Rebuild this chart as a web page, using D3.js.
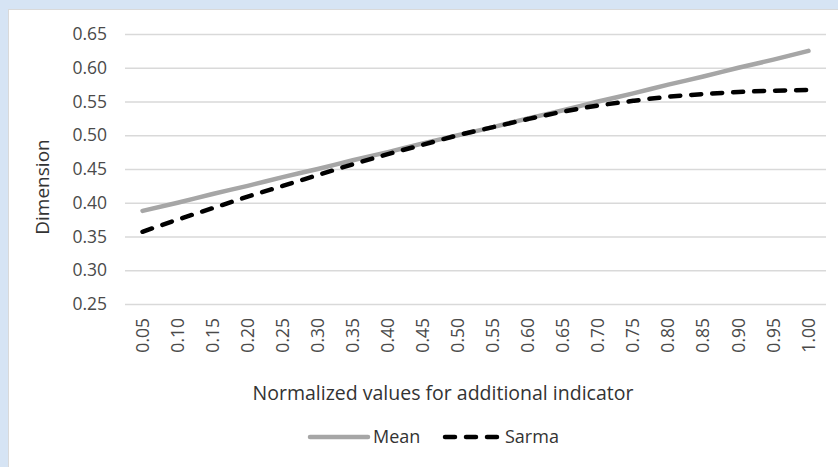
<!DOCTYPE html>
<html>
<head>
<meta charset="utf-8">
<script src="https://cdn.jsdelivr.net/npm/d3@7"></script>
<style>
  body { margin: 0; background: #d6e4f4; }
  #chart { width: 838px; height: 467px; }
  text { font-family: "Open Sans", sans-serif; }
</style>
</head>
<body>
<div id="chart"></div>
<script>
// x categories (normalized values for additional indicator)
const categories = ["0.05", "0.10", "0.15", "0.20", "0.25", "0.30", "0.35", "0.40", "0.45", "0.50",
                    "0.55", "0.60", "0.65", "0.70", "0.75", "0.80", "0.85", "0.90", "0.95", "1.00"];
const meanValues = [0.388, 0.400, 0.413, 0.425, 0.438, 0.450, 0.463, 0.475, 0.488, 0.500,
                    0.512, 0.525, 0.537, 0.550, 0.562, 0.575, 0.587, 0.600, 0.612, 0.625];
const sarmaValues = [0.357, 0.375, 0.392, 0.409, 0.425, 0.441, 0.457, 0.472, 0.486, 0.500,
                     0.512, 0.524, 0.535, 0.544, 0.551, 0.557, 0.561, 0.564, 0.566, 0.567];
const yTicks = [0.25, 0.30, 0.35, 0.40, 0.45, 0.50, 0.55, 0.60, 0.65];
const seriesNames = ["Mean", "Sarma"];

const W = 838, H = 467;
const margin = { top: 34, right: 12, bottom: 163, left: 125 };
const plotW = W - margin.left - margin.right;
const plotH = H - margin.top - margin.bottom;

const svg = d3.select("#chart").append("svg")
    .attr("width", W).attr("height", H);

// white chart panel on the blue page
svg.append("rect").attr("x", 8.5).attr("y", 9.5).attr("width", W - 8).attr("height", H - 9)
    .attr("fill", "#fff").attr("stroke", "#d9d9d9");

const g = svg.append("g").attr("transform", `translate(${margin.left},${margin.top})`);

const x = d3.scaleBand().domain(categories).range([0, plotW]);
const y = d3.scaleLinear().domain([0.25, 0.65]).range([plotH, 0]);

// horizontal gridlines + y labels
const yAxis = g.append("g")
    .call(d3.axisLeft(y).tickValues(yTicks).tickFormat(d3.format(".2f")).tickSize(-plotW).tickPadding(18));
yAxis.select(".domain").remove();
yAxis.selectAll("line").attr("stroke", "#d9d9d9").attr("stroke-width", 1.5);
yAxis.selectAll("text").attr("fill", "#4a4a4a").style("font-size", "17.5px");

// x labels, rotated
const xAxis = g.append("g").attr("transform", `translate(0,${plotH})`)
    .call(d3.axisBottom(x).tickSize(0));
xAxis.select(".domain").remove();
xAxis.selectAll("text")
    .attr("fill", "#4a4a4a").style("font-size", "17.5px")
    .attr("text-anchor", "end")
    .attr("transform", "translate(0,14) rotate(-90)")
    .attr("x", 0).attr("y", 0).attr("dy", "0.35em");

const line = d3.line()
    .x((d, i) => x(categories[i]) + x.bandwidth() / 2)
    .y(d => y(d))
    .curve(d3.curveMonotoneX);

g.append("path").datum(meanValues)
    .attr("fill", "none").attr("stroke", "#a6a6a6").attr("stroke-width", 4.5)
    .attr("stroke-linecap", "round").attr("d", line);

g.append("path").datum(sarmaValues)
    .attr("fill", "none").attr("stroke", "#000").attr("stroke-width", 4.5)
    .attr("stroke-linecap", "round").attr("stroke-dasharray", "10,11").attr("d", line);

// axis titles
svg.append("text").attr("transform", "translate(42,187) rotate(-90)")
    .attr("text-anchor", "middle").attr("dy", "0.35em")
    .attr("fill", "#333").style("font-size", "19px").text("Dimension");

svg.append("text").attr("x", 443).attr("y", 393)
    .attr("text-anchor", "middle").attr("dy", "0.35em")
    .attr("fill", "#333").style("font-size", "19.5px").text("Normalized values for additional indicator");

// legend
const legend = svg.append("g").attr("transform", "translate(0,437)");
const legendItems = [
    { name: seriesNames[0], x1: 310, x2: 368, color: "#a6a6a6", dash: null },
    { name: seriesNames[1], x1: 445, x2: 500, color: "#000", dash: "10,11" }
];
legendItems.forEach(d => {
    legend.append("line").attr("x1", d.x1).attr("x2", d.x2).attr("y1", 0).attr("y2", 0)
        .attr("stroke", d.color).attr("stroke-width", 4.5).attr("stroke-linecap", "round")
        .attr("stroke-dasharray", d.dash);
    legend.append("text").attr("x", d.x2 + 5).attr("dy", "0.35em")
        .attr("fill", "#333").style("font-size", "18px").text(d.name);
});
</script>
</body>
</html>
